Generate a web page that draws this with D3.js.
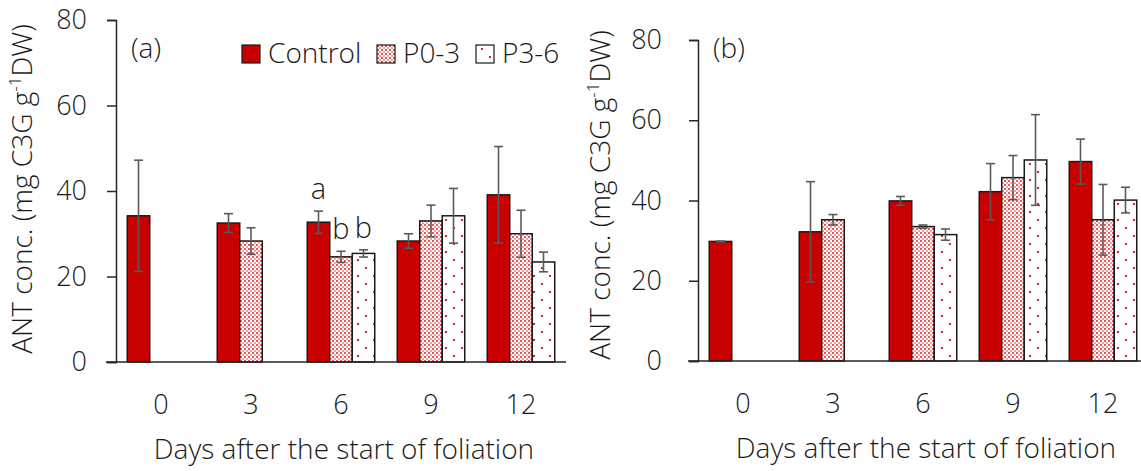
<!DOCTYPE html>
<html>
<head>
<meta charset="utf-8">
<script src="https://cdn.jsdelivr.net/npm/d3@7"></script>
<style>
  body { margin: 0; background: #fff; }
  svg { display: block; font-family: "Open Sans", "Noto Sans", sans-serif; font-weight: 300; }
</style>
</head>
<body>
<svg id="chart" width="1141" height="471"></svg>
<script>
// categories and series
var days = ["0", "3", "6", "9", "12"];
var series = ["Control", "P0-3", "P3-6"];
var yTicks = [0, 20, 40, 60, 80];

// panel (a) values and standard errors
var ctrlA = [34.2, 32.5, 32.7, 28.3, 39.1];
var ctrlAErr = [13.0, 2.2, 2.6, 1.7, 11.3];
var p03A = [null, 28.3, 24.6, 33.0, 30.0];
var p03AErr = [null, 3.1, 1.3, 3.7, 5.5];
var p36A = [null, null, 25.4, 34.2, 23.4];
var p36AErr = [null, null, 0.85, 6.4, 2.3];

// panel (b)
var ctrlB = [29.8, 32.2, 39.9, 42.2, 49.7];
var ctrlBErr = [0.1, 12.5, 1.1, 7.0, 5.6];
var p03B = [null, 35.2, 33.5, 45.7, 35.2];
var p03BErr = [null, 1.3, 0.4, 5.5, 8.8];
var p36B = [null, null, 31.5, 50.1, 40.1];
var p36BErr = [null, null, 1.4, 11.3, 3.2];

// significance letters (panel a, day 6)
var lettersA = [["6", "Control", "a"], ["6", "P0-3", "b"], ["6", "P3-6", "b"]];

var text_color = "#1a1a1a";
var axis_color = "#262626";
var red = "#c80000";
var font_size = 28;
var tick_size = 27;

var svg = d3.select("#chart");
var defs = svg.append("defs");

// dense dots for P0-3
var pd = defs.append("pattern").attr("id", "dense")
    .attr("patternUnits", "userSpaceOnUse").attr("width", 4).attr("height", 4);
pd.append("rect").attr("width", 4).attr("height", 4).attr("fill", "#fff");
pd.append("rect").attr("x", 0).attr("y", 0).attr("width", 2).attr("height", 2).attr("fill", "#ee5555");
pd.append("rect").attr("x", 2).attr("y", 2).attr("width", 2).attr("height", 2).attr("fill", "#f7a0a0");

// sparse dots for P3-6
var ps = defs.append("pattern").attr("id", "sparse")
    .attr("patternUnits", "userSpaceOnUse").attr("width", 16).attr("height", 16);
ps.append("rect").attr("width", 16).attr("height", 16).attr("fill", "#fff");
ps.append("rect").attr("x", 5).attr("y", 3).attr("width", 2).attr("height", 2).attr("fill", "#e02020");
ps.append("rect").attr("x", 13).attr("y", 11).attr("width", 2).attr("height", 2).attr("fill", "#e02020");

var fills = {"Control": red, "P0-3": "url(#dense)", "P3-6": "url(#sparse)"};

function make_rows(vals, errs) {
    var rows = [];
    series.forEach((s, si) => {
        days.forEach((d, di) => {
            if (vals[si][di] != null)
                rows.push({day: d, series: s, value: vals[si][di], err: errs[si][di]});
        });
    });
    return rows;
}

function draw_panel(opt) {
    var g = svg.append("g");
    var x = d3.scaleBand().domain(days).range([opt.x0, opt.x0 + 450]);
    var xs = d3.scaleBand().domain(series).range([0, x.bandwidth()]).paddingOuter(0.5).paddingInner(0);
    var y = d3.scaleLinear().domain([0, 80]).range([opt.y0, opt.y1]);

    // y axis
    var ya = g.append("g").attr("transform", "translate(" + opt.x0 + ",0)")
        .call(d3.axisLeft(y).tickValues(yTicks).tickSize(9).tickPadding(opt.tickPad));
    ya.select(".domain").attr("stroke", axis_color).attr("stroke-width", 1.5);
    ya.selectAll(".tick line").attr("stroke", axis_color).attr("stroke-width", 1.5);
    ya.selectAll(".tick text").attr("font-size", tick_size).attr("fill", text_color)
        .attr("font-family", "Open Sans").attr("font-weight", 300);

    var rows = opt.rows;
    g.selectAll(".bar").data(rows).enter().append("rect")
        .attr("class", "bar")
        .attr("x", d => x(d.day) + xs(d.series))
        .attr("y", d => y(d.value))
        .attr("width", xs.bandwidth())
        .attr("height", d => y(0) - y(d.value))
        .attr("fill", d => fills[d.series])
        .attr("stroke", "#1a1a1a")
        .attr("stroke-width", 1.5);

    // error bars
    var eb = g.selectAll(".err").data(rows).enter().append("g").attr("class", "err")
        .attr("stroke", "#5a5a5a").attr("stroke-width", 1.6);
    eb.append("line")
        .attr("x1", d => x(d.day) + xs(d.series) + xs.bandwidth() / 2)
        .attr("x2", d => x(d.day) + xs(d.series) + xs.bandwidth() / 2)
        .attr("y1", d => y(d.value - d.err))
        .attr("y2", d => y(d.value + d.err));
    [1, -1].forEach(sign => {
        eb.append("line")
            .attr("x1", d => x(d.day) + xs(d.series) + xs.bandwidth() / 2 - 4.5)
            .attr("x2", d => x(d.day) + xs(d.series) + xs.bandwidth() / 2 + 4.5)
            .attr("y1", d => y(d.value + sign * d.err))
            .attr("y2", d => y(d.value + sign * d.err));
    });

    // x axis line
    g.append("line")
        .attr("x1", opt.x0 - 10).attr("x2", opt.x0 + 450)
        .attr("y1", y(0)).attr("y2", y(0))
        .attr("stroke", axis_color).attr("stroke-width", 1.5);

    // category labels
    g.selectAll(".xlab").data(days).enter().append("text")
        .attr("x", d => x(d) + x.bandwidth() / 2)
        .attr("y", opt.y0 + 52)
        .attr("text-anchor", "middle")
        .attr("font-size", tick_size).attr("fill", text_color)
        .text(d => d);

    // axis titles
    g.append("text")
        .attr("x", opt.x0 + 228).attr("y", opt.y0 + 97)
        .attr("text-anchor", "middle")
        .attr("font-size", font_size).attr("fill", text_color)
        .text("Days after the start of foliation");

    var yt = g.append("text")
        .attr("transform", "translate(" + (opt.x0 - opt.titleOff) + "," + opt.titleY + ") rotate(-90)")
        .attr("text-anchor", "middle")
        .attr("font-size", font_size).attr("fill", text_color);
    yt.append("tspan").text("ANT conc. (mg C3G g");
    yt.append("tspan").attr("font-size", 17).attr("dy", -11).text("-1");
    yt.append("tspan").attr("dy", 11).text("DW)");

    g.append("text")
        .attr("x", opt.x0 + opt.tagDx).attr("y", 58)
        .attr("font-size", font_size).attr("fill", text_color)
        .text(opt.tag);

    return {g: g, x: x, xs: xs, y: y};
}

var rowsA = make_rows([ctrlA, p03A, p36A], [ctrlAErr, p03AErr, p36AErr]);
var rowsB = make_rows([ctrlB, p03B, p36B], [ctrlBErr, p03BErr, p36BErr]);

var pa = draw_panel({
    x0: 116, y0: 362, y1: 20, tickPad: 20, titleOff: 84, titleY: 189, tag: "(a)", tagDx: 15,
    rows: rowsA
});
var pb = draw_panel({
    x0: 698, y0: 361, y1: 40, tickPad: 27, titleOff: 88, titleY: 195, tag: "(b)", tagDx: 15,
    rows: rowsB
});

// letters above day-6 bars in panel a
lettersA.forEach(l => {
    var r = rowsA.find(d => d.day == l[0] && d.series == l[1]);
    pa.g.append("text")
        .attr("x", pa.x(l[0]) + pa.xs(l[1]) + pa.xs.bandwidth() / 2)
        .attr("y", pa.y(r.value + r.err) - 12)
        .attr("text-anchor", "middle")
        .attr("font-size", 29).attr("fill", text_color)
        .text(l[2]);
});

// legend
var leg = svg.append("g").attr("transform", "translate(242,45)");
var legX = [0, 135, 234];
series.forEach((s, i) => {
    var li = leg.append("g").attr("transform", "translate(" + legX[i] + ",0)");
    li.append("rect").attr("width", 18).attr("height", 18)
        .attr("fill", fills[s]).attr("stroke", "#1a1a1a").attr("stroke-width", 1.2);
    li.append("text").attr("x", 26).attr("y", 18)
        .attr("font-size", font_size).attr("fill", text_color).text(s);
});
</script>
</body>
</html>
